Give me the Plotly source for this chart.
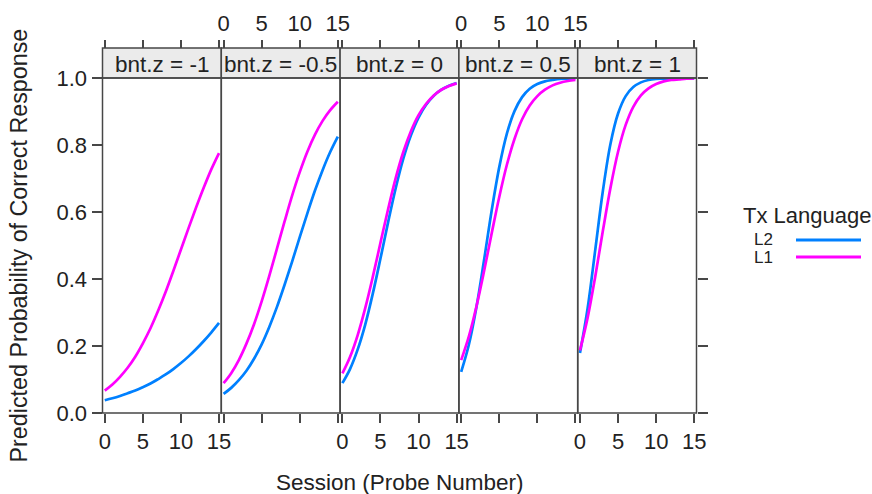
import plotly.graph_objects as go

# ---------------- data ----------------
sessions = list(range(16))
bnt_levels = ["-1", "-0.5", "0", "0.5", "1"]
strip_labels = ["bnt.z = -1", "bnt.z = -0.5", "bnt.z = 0", "bnt.z = 0.5", "bnt.z = 1"]
groups = ["L2", "L1"]
x_ticks = [0, 5, 10, 15]
y_ticks = [0.0, 0.2, 0.4, 0.6, 0.8, 1.0]

l2_bnt_m1 = [0.038, 0.044, 0.051, 0.059, 0.067, 0.077, 0.088, 0.101, 0.115, 0.131, 0.149, 0.169, 0.191, 0.215, 0.241, 0.269]
l2_bnt_m05 = [0.057, 0.075, 0.098, 0.126, 0.162, 0.205, 0.257, 0.316, 0.382, 0.452, 0.525, 0.596, 0.664, 0.725, 0.779, 0.825]
l2_bnt_0 = [0.089, 0.131, 0.189, 0.264, 0.357, 0.461, 0.569, 0.671, 0.759, 0.829, 0.882, 0.920, 0.947, 0.965, 0.977, 0.985]
l2_bnt_05 = [0.123, 0.203, 0.316, 0.456, 0.604, 0.734, 0.834, 0.901, 0.943, 0.968, 0.982, 0.990, 0.994, 0.997, 0.998, 0.999]
l2_bnt_1 = [0.179, 0.312, 0.486, 0.662, 0.803, 0.894, 0.946, 0.973, 0.987, 0.994, 0.997, 0.998, 0.999, 0.999, 0.999, 0.999]

l1_bnt_m1 = [0.067, 0.085, 0.108, 0.135, 0.168, 0.208, 0.253, 0.305, 0.362, 0.424, 0.488, 0.552, 0.614, 0.673, 0.728, 0.776]
l1_bnt_m05 = [0.089, 0.119, 0.158, 0.207, 0.265, 0.333, 0.409, 0.490, 0.571, 0.649, 0.719, 0.780, 0.831, 0.872, 0.904, 0.929]
l1_bnt_0 = [0.118, 0.167, 0.232, 0.313, 0.407, 0.508, 0.608, 0.701, 0.779, 0.841, 0.889, 0.923, 0.948, 0.965, 0.976, 0.984]
l1_bnt_05 = [0.158, 0.228, 0.318, 0.423, 0.536, 0.645, 0.741, 0.818, 0.877, 0.918, 0.946, 0.965, 0.978, 0.986, 0.991, 0.994]
l1_bnt_1 = [0.187, 0.284, 0.407, 0.543, 0.672, 0.780, 0.860, 0.914, 0.948, 0.969, 0.982, 0.990, 0.994, 0.996, 0.998, 0.999]

l2_probs = [l2_bnt_m1, l2_bnt_m05, l2_bnt_0, l2_bnt_05, l2_bnt_1]
l1_probs = [l1_bnt_m1, l1_bnt_m05, l1_bnt_0, l1_bnt_05, l1_bnt_1]

# ---------------- styling ----------------
W, H = 872, 494
FONT = "Liberation Sans, Arial, Helvetica, sans-serif"
TXT = "#222222"
AXC = "#474747"
COL_L2 = "#0080ff"
COL_L1 = "#ff00ff"
STRIP_FILL = "#ebebeb"
TICK_FS = 22
TITLE_FS = 22.5


def px(x):
    return x / W


def py(y):
    return 1 - y / H


bounds = [102.5, 221.3, 340.1, 458.9, 577.7, 696.5]
y_bot, y_top, strip_top = 413, 78, 48
xr = [-0.3, 15.3]

fig = go.Figure()
layout = dict(
    template="none",
    width=W, height=H, autosize=False,
    margin=dict(l=0, r=0, t=0, b=0, pad=0),
    paper_bgcolor="white", plot_bgcolor="white",
    showlegend=False,
    font=dict(family=FONT, color=TXT, size=20),
)

for k in range(5):
    xa = "x" if k == 0 else f"x{k+1}"
    fig.add_trace(go.Scatter(x=sessions, y=l2_probs[k], mode="lines", line=dict(color=COL_L2, width=2.7, shape="spline"),
                             xaxis=xa, yaxis="y", name=groups[0], hoverinfo="skip"))
    fig.add_trace(go.Scatter(x=sessions, y=l1_probs[k], mode="lines", line=dict(color=COL_L1, width=2.7, shape="spline"),
                             xaxis=xa, yaxis="y", name=groups[1], hoverinfo="skip"))
    dom = [px(bounds[k]), px(bounds[k + 1])]
    key = "xaxis" if k == 0 else f"xaxis{k+1}"
    layout[key] = dict(domain=dom, range=xr, anchor="y", side="bottom", automargin=False,
                       showgrid=False, zeroline=False, showline=False,
                       ticks="outside", ticklen=9, tickwidth=1.5, tickcolor=AXC,
                       tickvals=x_ticks, ticktext=[str(v) for v in x_ticks],
                       showticklabels=(k % 2 == 0),
                       tickfont=dict(size=TICK_FS, family=FONT, color=TXT))
    # top axis above the strip
    tk = 6 + k
    fig.add_trace(go.Scatter(x=[None], y=[None], xaxis=f"x{tk}", yaxis="y", showlegend=False, hoverinfo="skip"))
    layout[f"xaxis{tk}"] = dict(domain=dom, range=xr, anchor="free", position=py(strip_top), side="top",
                                overlaying=("x" if k == 0 else f"x{k+1}"), automargin=False,
                                showgrid=False, zeroline=False, showline=False,
                                ticks="outside", ticklen=8, tickwidth=1.5, tickcolor=AXC,
                                tickvals=x_ticks, ticktext=[str(v) for v in x_ticks],
                                showticklabels=(k % 2 == 1),
                                tickfont=dict(size=TICK_FS, family=FONT, color=TXT))

ydom = [py(y_bot), py(y_top)]
layout["yaxis"] = dict(domain=ydom, range=[0, 1], anchor="x", side="left", automargin=False,
                       showgrid=False, zeroline=False, showline=False,
                       ticks="outside", ticklen=10, tickwidth=1.5, tickcolor=AXC,
                       tickvals=y_ticks, ticktext=[f"{v:.1f}" for v in y_ticks],
                       tickfont=dict(size=TICK_FS, family=FONT, color=TXT))
fig.add_trace(go.Scatter(x=[None], y=[None], xaxis="x5", yaxis="y2", showlegend=False, hoverinfo="skip"))
layout["yaxis2"] = dict(domain=ydom, range=[0, 1], anchor="x5", side="right", overlaying="y", automargin=False,
                        showgrid=False, zeroline=False, showline=False,
                        ticks="outside", ticklen=10, tickwidth=1.5, tickcolor=AXC,
                        tickvals=y_ticks, showticklabels=False)

shapes = []
annotations = []
for k in range(5):
    x0, x1 = px(bounds[k]), px(bounds[k + 1])
    # strip
    shapes.append(dict(type="rect", xref="paper", yref="paper", x0=x0, x1=x1, y0=py(y_top), y1=py(strip_top),
                       fillcolor=STRIP_FILL, line=dict(color=AXC, width=1.5), layer="above"))
    # panel box
    shapes.append(dict(type="rect", xref="paper", yref="paper", x0=x0, x1=x1, y0=py(y_bot), y1=py(y_top),
                       fillcolor="rgba(0,0,0,0)", line=dict(color=AXC, width=1.5), layer="above"))
    annotations.append(dict(xref="paper", yref="paper", x=(x0 + x1) / 2, y=py((y_top + strip_top) / 2 + 1),
                            text=strip_labels[k], showarrow=False, xanchor="center", yanchor="middle",
                            font=dict(size=22.5, family=FONT, color=TXT)))

# axis titles
annotations.append(dict(xref="paper", yref="paper", x=px((bounds[0] + bounds[-1]) / 2), y=py(482),
                        text="Session (Probe Number)", showarrow=False, xanchor="center", yanchor="middle",
                        font=dict(size=TITLE_FS, family=FONT, color=TXT)))
annotations.append(dict(xref="paper", yref="paper", x=px(18), y=py((y_top + y_bot) / 2),
                        text="Predicted Probability of Correct Response", showarrow=False, textangle=-90,
                        xanchor="center", yanchor="middle", font=dict(size=23.3, family=FONT, color=TXT)))

# legend (key)
annotations.append(dict(xref="paper", yref="paper", x=px(741), y=py(215), text="Tx Language", showarrow=False,
                        xanchor="left", yanchor="middle", font=dict(size=22, family=FONT, color=TXT)))
leg_y = [240, 257]
leg_col = [COL_L2, COL_L1]
for g, yy, c in zip(groups, leg_y, leg_col):
    annotations.append(dict(xref="paper", yref="paper", x=px(752), y=py(yy), text=g, showarrow=False,
                            xanchor="left", yanchor="middle", font=dict(size=17, family=FONT, color=TXT)))
    shapes.append(dict(type="line", xref="paper", yref="paper", x0=px(796), x1=px(861), y0=py(yy), y1=py(yy),
                       line=dict(color=c, width=2.8)))

layout["shapes"] = shapes
layout["annotations"] = annotations
fig.update_layout(**layout)
fig.write_html("out.html", config={"displayModeBar": False},
               post_script="document.body.style.margin='0px';document.body.style.overflow='hidden';")
